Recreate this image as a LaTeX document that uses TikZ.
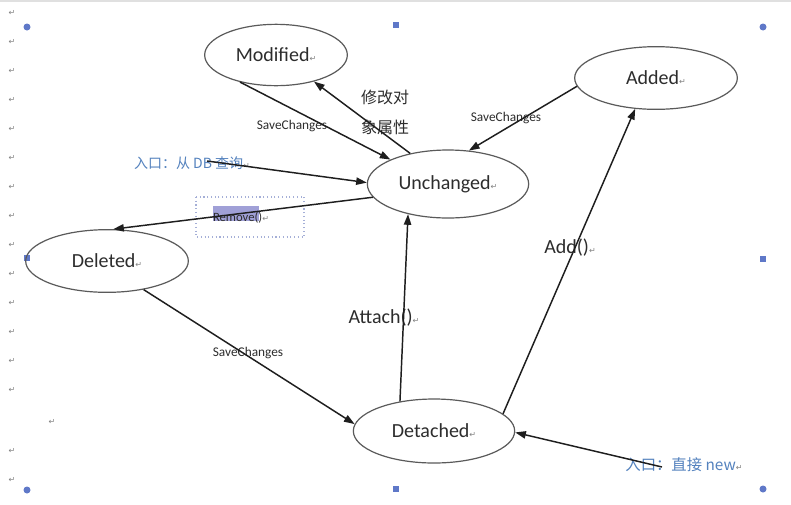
\documentclass[tikz,border=0pt]{standalone}
\usepackage{fontspec}
\setmainfont{Carlito}
\newfontfamily\cjk{Noto Sans CJK SC}
\newfontfamily\symf{DejaVu Sans}
\usetikzlibrary{arrows.meta,shapes.geometric}

\definecolor{entryblue}{RGB}{84,130,190}
\definecolor{linegray}{RGB}{30,30,30}
\definecolor{rimgray}{RGB}{90,90,90}
\definecolor{textgray}{RGB}{45,45,45}
\definecolor{handleblue}{RGB}{95,120,200}
\definecolor{markgray}{RGB}{130,130,130}
\definecolor{hilite}{RGB}{160,160,215}
\definecolor{selgray}{RGB}{165,175,215}

\newcommand{\pmk}{{\symf\fontsize{6}{6}\selectfont\color{markgray}↵}}

\tikzset{every picture/.style={line width=0.75pt}}
\tikzset{
  state/.style={ellipse, draw=rimgray, line width=0.9pt, inner sep=0pt,
    font=\fontsize{15}{18}\selectfont, text=textgray},
  trans/.style={draw=linegray, line width=1.1pt, -{Triangle[length=8pt,width=5.5pt]}},
  small/.style={inner sep=0.75pt, font=\fontsize{10}{12}\selectfont, text=textgray},
  big/.style={inner sep=0.75pt, font=\fontsize{15}{18}\selectfont, text=textgray},
  cnlbl/.style={inner sep=0.75pt, font=\cjk\fontsize{12}{14}\selectfont, text=textgray},
  entry/.style={inner sep=0.75pt, font=\cjk\fontsize{10.5}{12}\selectfont, text=entryblue},
  pmark/.style={inner sep=0pt}
}

\begin{document}
\begin{tikzpicture}[x=0.75pt,y=0.75pt,yscale=-1,xscale=1]
\useasboundingbox (0,0) rectangle (791,504);
\fill [white] (0,0) rectangle (791,504);

% page marks
\draw [color=black!12, line width=1.5] (0,1) -- (791,1) ;
\foreach \y [count=\i] in {13,42,71,100,129,158,187,216,245,274,303,332,361,390,451,480}
  \node [pmark] (pm\i) at (12,\y) {\pmk};
\node [pmark] (pm0) at (52,422) {\pmk};
\foreach \x/\y in {27/27,763/27,27/490,763/489}
  \fill [handleblue] (\x,\y) circle (3.5) ;
\foreach \x/\y in {396/25,27/258,763/259,396/489}
  \fill [handleblue] (\x-3,\y-3) rectangle (\x+3,\y+3) ;

% states
\node [state, minimum width=107pt, minimum height=46pt] (mod) at (276,55) {Modified\pmk};
\node [state, minimum width=122pt, minimum height=47pt] (add) at (656,78) {Added\pmk};
\node [state, minimum width=121pt, minimum height=51pt] (unch) at (448,184) {Unchanged\pmk};
\node [state, minimum width=122pt, minimum height=47pt] (del) at (107,261) {Deleted\pmk};
\node [state, minimum width=121pt, minimum height=48pt] (det) at (434,431) {Detached\pmk};

% selected label
\draw [draw=selgray, dotted, line width=0.8] (196,197) rectangle (304,237) ;
\fill [hilite] (213,206) rectangle (259,221) ;

% labels
\node [small] (lsm) at (292,126) {SaveChanges};
\node [cnlbl] (lcn1) at (385,97) {修改对};
\node [cnlbl] (lcn2) at (385,127) {象属性};
\node [small] (lsa) at (506,118) {SaveChanges};
\node [small, font=\fontsize{9.5}{11}\selectfont] (lrm) at (241,218) {Remove()\pmk};
\node [small] (lsd) at (248,353) {SaveChanges};
\node [big] (lat) at (384,318) {Attach()\pmk};
\node [big] (lad) at (570,248) {Add()\pmk};
\node [entry] (dbq) at (192,163) {入口：从 DB 查询\pmk};
\node [entry, font=\cjk\fontsize{11.5}{13}\selectfont] (newq) at (684,465) {入口：直接 new\pmk};

\coordinate (dbtail) at (207,161);
\coordinate (newtail) at (662,467);

% transitions
\draw [trans] (mod.-143) -- (unch.157) ;
\draw [trans] (unch.141) -- (mod.-35) ;
\draw [trans] (add.-174) -- (unch.58) ;
\draw [trans] (dbtail) -- (unch.179) ;
\draw [trans] (unch.190) -- (del.79) ;
\draw [trans] (del.-38) -- (det.175) ;
\draw [trans] (det.139) -- (unch.-143) ;
\draw [trans] (det.14) -- (add.-124) ;
\draw [trans] (newtail) -- (det.-1) ;

\end{tikzpicture}
\end{document}
